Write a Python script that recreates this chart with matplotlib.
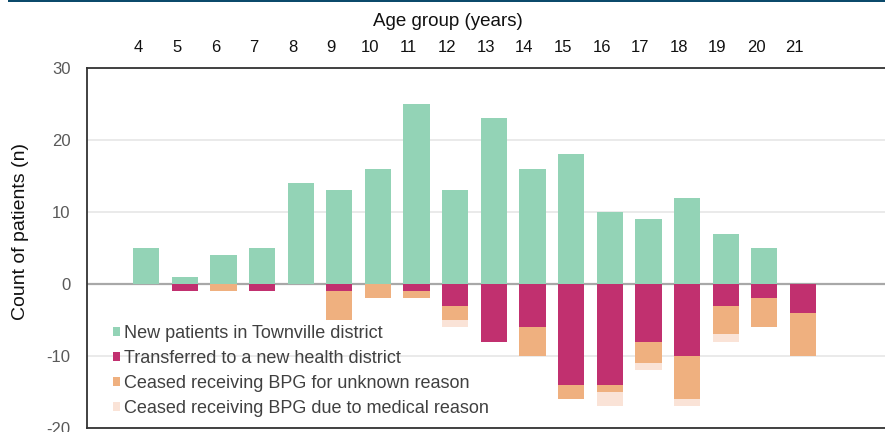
import matplotlib
matplotlib.use("Agg")
from matplotlib import pyplot as plt
from matplotlib.patches import Patch
import numpy as np

plt.rcParams["font.family"] = ["Liberation Sans", "DejaVu Sans"]

# data
ages = [4, 5, 6, 7, 8, 9, 10, 11, 12, 13, 14, 15, 16, 17, 18, 19, 20, 21]
new_patients = [5, 1, 4, 5, 14, 13, 16, 25, 13, 23, 16, 18, 10, 9, 12, 7, 5, 0]
transferred = [0, 1, 0, 1, 0, 1, 0, 1, 3, 8, 6, 14, 14, 8, 10, 3, 2, 4]
ceased_unknown = [0, 0, 1, 0, 0, 4, 2, 1, 2, 0, 4, 2, 1, 3, 6, 4, 4, 6]
ceased_medical = [0, 0, 0, 0, 0, 0, 0, 0, 1, 0, 0, 0, 2, 1, 1, 1, 0, 0]

labels = ["New patients in Townville district",
          "Transferred to a new health district",
          "Ceased receiving BPG for unknown reason",
          "Ceased receiving BPG due to medical reason"]
colors = ["#93d3b6", "#c1306f", "#efb07f", "#fae3d7"]

fig = plt.figure(figsize=(8.85, 4.32), dpi=100)
# dark strip across the top of the figure
fig.add_artist(plt.Rectangle((0.009, 0.995), 0.991, 0.005, transform=fig.transFigure,
                             color="#0b4a6b", lw=0))
ax = fig.add_axes([0.0983, 0.0093, 0.905, 0.8333])

x = np.array(ages)
w = 0.68
ax.bar(x, new_patients, w, color=colors[0], zorder=3)
tr = -np.array(transferred)
ax.bar(x, tr, w, color=colors[1], zorder=3)
cu = -np.array(ceased_unknown)
ax.bar(x, cu, w, bottom=tr, color=colors[2], zorder=3)
cm = -np.array(ceased_medical)
ax.bar(x, cm, w, bottom=tr + cu, color=colors[3], zorder=3)

ax.set_xlim(2.47, 23.2)
ax.set_ylim(-20, 30)
ax.set_yticks([-20, -10, 0, 10, 20, 30])
ax.set_yticklabels(["-20", "-10", "0", "10", "20", "30"])
ax.tick_params(axis="y", length=0, pad=12, labelsize=12, labelcolor="#595959")
ax.yaxis.grid(True, color="#e8e8e8", lw=1.3, zorder=0)
ax.axhline(0, color="#a8a8a8", lw=1.6, zorder=2)

# age labels sit a little left of the bars in the original
ax.xaxis.tick_top()
ax.xaxis.set_label_position("top")
ax.set_xticks(x - 0.21)
ax.set_xticklabels([str(a) for a in ages])
ax.tick_params(axis="x", length=0, pad=9, labelsize=12, labelcolor="#111111")
ax.set_xlabel("Age group (years)", fontsize=13.5, color="#111111")
ax.xaxis.set_label_coords(0.451, 1.118)
ax.set_ylabel("Count of patients (n)", fontsize=14, color="#111111")
ax.yaxis.set_label_coords(-0.0724, 0.547)

for s in ["left", "top", "bottom"]:
    ax.spines[s].set_color("#333333")
    ax.spines[s].set_linewidth(1.3)
ax.spines["right"].set_visible(False)

handles = [Patch(facecolor=c, edgecolor="none") for c in colors]
leg = ax.legend(handles, labels, loc="lower left", bbox_to_anchor=(0.0165, -0.004),
                frameon=False, fontsize=13, handlelength=0.4, handleheight=0.4,
                handletextpad=0.22, labelspacing=0.44, borderaxespad=0.3)
for t in leg.get_texts():
    t.set_color("#404040")

plt.savefig("out.png", dpi=100)
